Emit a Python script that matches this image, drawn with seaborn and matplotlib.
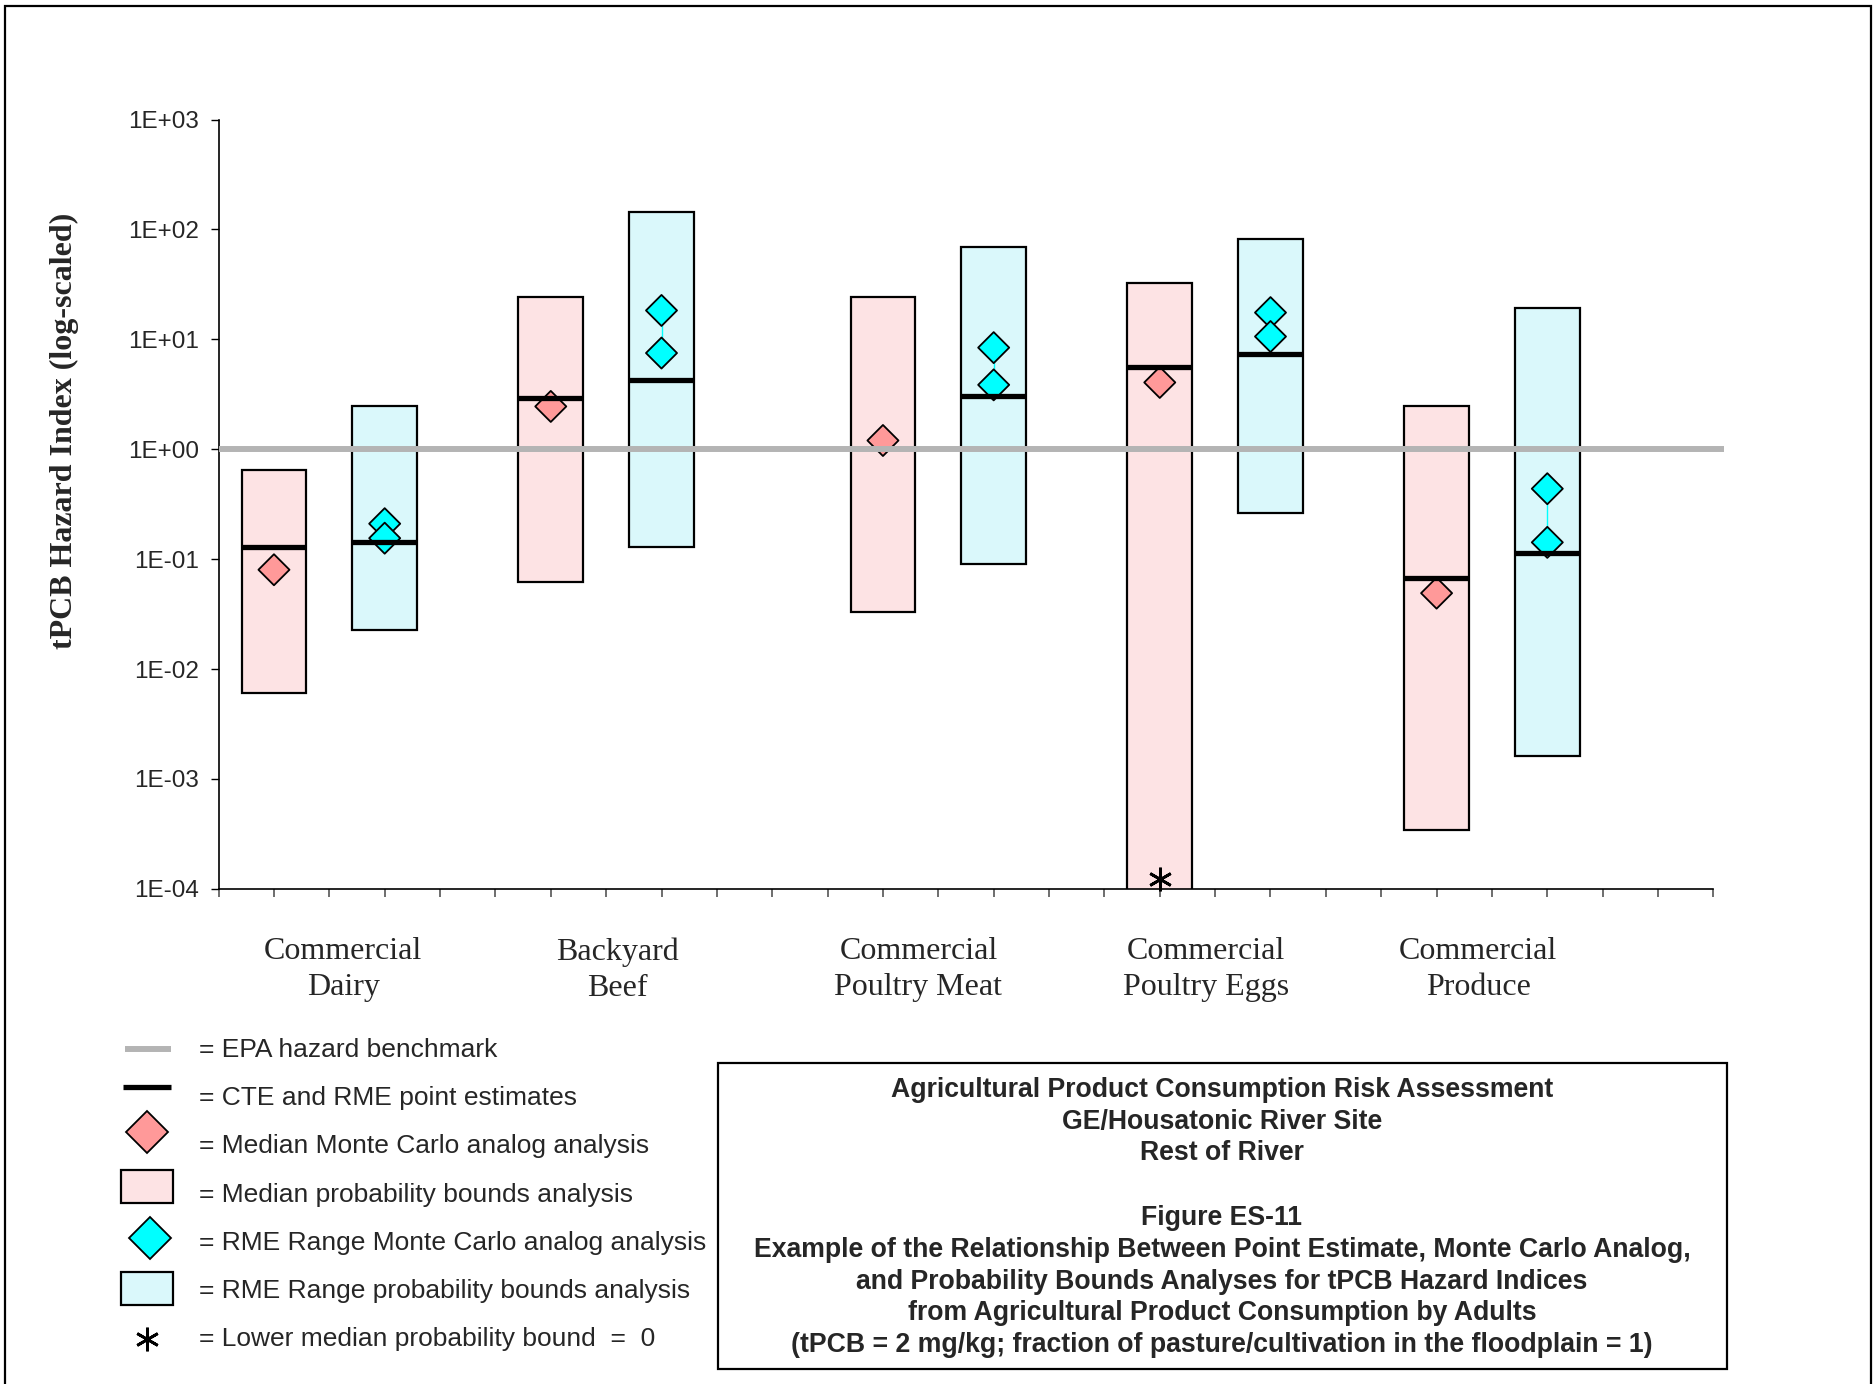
import numpy as np
import pandas as pd
import matplotlib
matplotlib.use("Agg")
import matplotlib.pyplot as plt
import matplotlib.transforms as mtransforms
from matplotlib.patches import Rectangle
from matplotlib.ticker import FixedLocator, FuncFormatter, NullLocator
import seaborn as sns

# ---- data -------------------------------------------------------------
categories = ["Commercial\nDairy", "Backyard\nBeef", "Commercial\nPoultry Meat",
              "Commercial\nPoultry Eggs", "Commercial\nProduce"]
label_pos = [2.25, 7.2, 12.64, 17.83, 22.75]
median_pos = [1, 6, 12, 17, 22]
rme_pos = [3, 8, 14, 19, 24]

# probability bounds (low / high)
median_low = [0.0060, 0.0618, 0.0333, 0.0, 3.44e-4]
median_high = [0.644, 24.3, 24.3, 32.4, 2.45]
rme_low = [0.0226, 0.128, 0.090, 0.261, 1.63e-3]
rme_high = [2.45, 145.0, 69.4, 82.0, 19.3]

# point estimates (CTE for median bars, RME for range bars)
cte_point = [0.128, 2.9, np.nan, 5.64, 0.068]
rme_point = [0.143, 4.30, 3.03, 7.41, 0.113]

# Monte Carlo analog results
median_mc = [0.080, 2.45, 1.20, 4.05, 0.049]
rme_mc_upper = [0.21, 18.3, 8.4, 17.5, 0.437]
rme_mc_lower = [0.155, 7.5, 3.85, 10.6, 0.142]

benchmark = 1.0

legend_labels = ["= EPA hazard benchmark",
                 "= CTE and RME point estimates",
                 "= Median Monte Carlo analog analysis",
                 "= Median probability bounds analysis",
                 "= RME Range Monte Carlo analog analysis",
                 "= RME Range probability bounds analysis",
                 "= Lower median probability bound  =  0"]

title_lines = ["Agricultural Product Consumption Risk Assessment",
               "GE/Housatonic River Site",
               "Rest of River",
               "",
               "Figure ES-11",
               "Example of the Relationship Between Point Estimate, Monte Carlo Analog,",
               "and Probability Bounds Analyses for tPCB Hazard Indices",
               "from Agricultural Product Consumption by Adults",
               "(tPCB = 2 mg/kg; fraction of pasture/cultivation in the floodplain = 1)"]

# ---- style ------------------------------------------------------------
sns.set_style("ticks")
plt.rcParams["font.family"] = ["Liberation Sans", "DejaVu Sans"]

PINK_FILL = "#FDE3E4"
CYAN_FILL = "#DAF8FB"
PINK = "#FF9999"
CYAN = "#00FFFF"
GREY = "#B4B4B4"
SERIF = ["Liberation Serif", "DejaVu Serif"]
SANS = ["Liberation Sans", "DejaVu Sans"]

W, H = 1873, 1384
fig = plt.figure(figsize=(W / 100, H / 100), dpi=100)
fig.patch.set_facecolor("white")

ax_l, ax_r, ax_t, ax_b = 218.6, 1713.4, 119.5, 888.8
ax = fig.add_axes([ax_l / W, 1 - ax_b / H, (ax_r - ax_l) / W, (ax_b - ax_t) / H])
ax.set_yscale("log", nonpositive="clip")
ax.set_xlim(0, 27)
ax.set_ylim(1e-4, 1e3)
ax.set_facecolor("white")

bar_w = 1.17
m_low = np.array(median_low)
m_high = np.array(median_high)
r_low = np.array(rme_low)
r_high = np.array(rme_high)

ax.bar(median_pos, m_high - m_low, bottom=m_low, width=bar_w, color=PINK_FILL,
       edgecolor="black", linewidth=1.6, zorder=2)
ax.bar(rme_pos, r_high - r_low, bottom=r_low, width=bar_w, color=CYAN_FILL,
       edgecolor="black", linewidth=1.6, zorder=2)

# thin connector between the two RME Monte Carlo results
ax.vlines(rme_pos, rme_mc_lower, rme_mc_upper, colors=CYAN, linewidth=1.0, zorder=2.5)

# Monte Carlo diamonds
mc = pd.DataFrame({
    "pos": median_pos + rme_pos + rme_pos,
    "value": median_mc + rme_mc_upper + rme_mc_lower,
    "series": ["median"] * 5 + ["rme"] * 10,
})
sns.scatterplot(data=mc, x="pos", y="value", hue="series",
                palette={"median": PINK, "rme": CYAN}, marker="D", s=250,
                edgecolor="black", linewidth=1.3, legend=False, ax=ax, zorder=3)

# point estimates
mp = np.array(median_pos, dtype=float)
cp = np.array(cte_point)
ok = ~np.isnan(cp)
ax.hlines(cp[ok], mp[ok] - bar_w / 2, mp[ok] + bar_w / 2, colors="black",
          linewidth=3.8, zorder=4)
rp = np.array(rme_pos, dtype=float)
ax.hlines(rme_point, rp - bar_w / 2, rp + bar_w / 2, colors="black",
          linewidth=3.8, zorder=4)

# EPA hazard benchmark
ax.hlines(benchmark, 0, 27.2, colors=GREY, linewidth=4.3, zorder=5, clip_on=False)

# asterisk where the lower median bound is zero
star_tr = mtransforms.offset_copy(ax.transData, fig=fig, x=0, y=10, units="dots")
for p, lo in zip(median_pos, median_low):
    if lo == 0:
        ax.plot([p], [1e-4], marker=(6, 2, 0), ms=17, mew=2.0, color="black",
                transform=star_tr, clip_on=False, zorder=6)

# axes cosmetics
sns.despine(ax=ax, top=True, right=True)
for s in ("left", "bottom"):
    ax.spines[s].set_color("black")
    ax.spines[s].set_linewidth(1.2)
ax.yaxis.set_major_locator(FixedLocator(10.0 ** np.arange(-4, 4)))
ax.yaxis.set_minor_locator(NullLocator())
ax.yaxis.set_major_formatter(FuncFormatter(lambda v, p: f"{v:.0E}"))
ax.tick_params(axis="y", direction="out", length=6, width=1, color="black",
               pad=8, labelsize=17.5)
for t in ax.get_yticklabels():
    t.set_family(SANS)

ax.set_xticks(np.arange(0, 28))
ax.set_xticklabels([])
ax.tick_params(axis="x", which="major", direction="out", length=6, width=1.2,
               color="#555555")
ax.set_xticks(label_pos, minor=True)
ax.set_xticklabels(categories, minor=True, fontsize=23, family=SERIF,
                   linespacing=1.3)
ax.tick_params(axis="x", which="minor", length=0, pad=35)
ax.set_xlabel("")
ax.set_ylabel("")

fig.text(64 / W, 1 - 431 / H, "tPCB Hazard Index (log-scaled)", rotation=90,
         ha="center", va="center", family=SERIF, weight="bold", fontsize=23)

# ---- overlay in pixel coordinates: frame, legend key, title box -------
lax = fig.add_axes([0, 0, 1, 1], zorder=10)
lax.set_xlim(0, W)
lax.set_ylim(H, 0)
lax.axis("off")
lax.patch.set_alpha(0)

lax.plot([5, 5, 1871, 1871], [H + 10, 6, 6, H + 10], color="black", lw=1.6,
         clip_on=False, solid_joinstyle="miter")

rows = [1050, 1098.2, 1146.4, 1194.6, 1242.8, 1291, 1339.2]
for y, txt in zip(rows, legend_labels):
    lax.text(199, y, txt, ha="left", va="center", fontsize=19, family=SANS)

lax.plot([125.5, 171], [1049, 1049], color=GREY, lw=4.3, solid_capstyle="butt")
lax.plot([123, 171], [1087, 1087], color="black", lw=3.8, solid_capstyle="butt")
lax.plot([147], [1132], marker="D", ms=21, mfc=PINK, mec="black", mew=1.3)
lax.add_patch(Rectangle((121, 1170), 51.7, 33, facecolor=PINK_FILL,
                        edgecolor="black", lw=1.6))
lax.plot([150], [1238], marker="D", ms=21, mfc=CYAN, mec="black", mew=1.3)
lax.add_patch(Rectangle((121, 1272), 51.7, 33, facecolor=CYAN_FILL,
                        edgecolor="black", lw=1.6))
lax.plot([146.6], [1339], marker=(6, 2, 0), ms=17, mew=2.0, color="black")

lax.add_patch(Rectangle((718, 1063), 1009, 306, fill=False, edgecolor="black",
                        lw=1.6))
title_y = [1090, 1121.7, 1153.3, 1185.8, 1218.3, 1250, 1281.7, 1313.3, 1345]
for y, txt in zip(title_y, title_lines):
    if txt:
        lax.text(1222, y, txt, ha="center", va="center", fontsize=19.2,
                 weight="bold", family=SANS)

fig.savefig("out.png", dpi=100, facecolor="white")
